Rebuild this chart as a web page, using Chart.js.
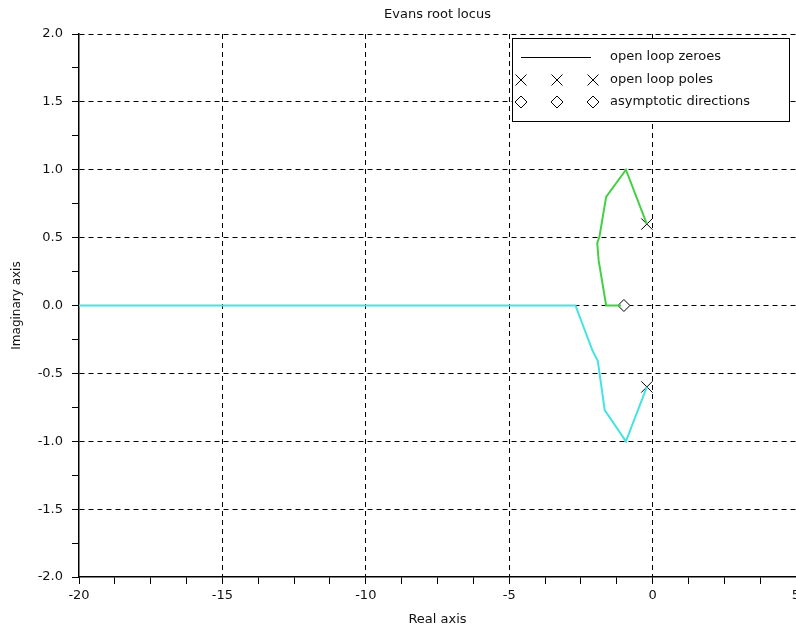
<!DOCTYPE html>
<html>
<head>
<meta charset="utf-8">
<script src="https://cdn.jsdelivr.net/npm/chart.js@4/dist/chart.umd.min.js"></script>
<style>
  html, body { margin: 0; padding: 0; background: #fff; overflow: hidden; }
  canvas { display: block; }
</style>
</head>
<body>
<canvas id="locusChart" width="805" height="628"></canvas>
<script>
// root locus branches
const cyanX = [-20, -2.69, -2.10, -1.91, -1.67, -0.93, -0.2];
const cyanY = [0, 0, -0.33, -0.41, -0.77, -1.0, -0.6];
const greenX = [-0.2, -0.93, -1.62, -1.85, -1.93, -1.88, -1.62, -1.1];
const greenY = [0.6, 1.0, 0.80, 0.51, 0.46, 0.33, 0, 0];
// open loop poles and asymptote centre
const poleX = [-0.2, -0.2];
const poleY = [0.6, -0.6];
const asymX = [-1.0];
const asymY = [0];

const legendRows = ['open loop zeroes', 'open loop poles', 'asymptotic directions'];
const chartTitle = 'Evans root locus';
const xLabel = 'Real axis';
const yLabel = 'Imaginary axis';

const FONT = 'DejaVu Sans';

function toPoints(xs, ys) {
    return xs.map((x, i) => ({ x: x, y: ys[i] }));
}

function isMultiple(v, step) {
    const r = v / step;
    return Math.abs(r - Math.round(r)) < 1e-9;
}

// title + legend box, drawn on top like the scilab figure
const decorPlugin = {
    id: 'decor',
    afterDraw(chart) {
        const ctx = chart.ctx;
        const area = chart.chartArea;
        ctx.save();
        ctx.fillStyle = '#111';
        ctx.font = '13px "' + FONT + '"';
        ctx.textAlign = 'center';
        ctx.textBaseline = 'middle';
        ctx.fillText(chartTitle, (area.left + area.right) / 2, 15);

        // legend box
        const bx = 512, by = 38, bw = 277, bh = 83;
        ctx.fillStyle = '#fff';
        ctx.fillRect(bx, by, bw, bh);
        ctx.strokeStyle = '#000';
        ctx.lineWidth = 1;
        ctx.strokeRect(bx + 0.5, by + 0.5, bw, bh);

        const rowY = [57, 80, 102];
        const markX = [521, 557, 593];

        ctx.beginPath();
        ctx.moveTo(521, rowY[0] + 0.5);
        ctx.lineTo(591, rowY[0] + 0.5);
        ctx.stroke();

        markX.forEach((mx) => {
            const s = 5.5;
            ctx.beginPath();
            ctx.moveTo(mx - s, rowY[1] - s);
            ctx.lineTo(mx + s, rowY[1] + s);
            ctx.moveTo(mx + s, rowY[1] - s);
            ctx.lineTo(mx - s, rowY[1] + s);
            ctx.stroke();

            const d = 6;
            ctx.beginPath();
            ctx.moveTo(mx, rowY[2] - d);
            ctx.lineTo(mx + d, rowY[2]);
            ctx.lineTo(mx, rowY[2] + d);
            ctx.lineTo(mx - d, rowY[2]);
            ctx.closePath();
            ctx.stroke();
        });

        ctx.fillStyle = '#111';
        ctx.textAlign = 'left';
        legendRows.forEach((txt, i) => {
            ctx.fillText(txt, 610, rowY[i]);
        });
        ctx.restore();
    }
};

const ctx = document.getElementById('locusChart').getContext('2d');

const locusChart = new Chart(ctx, {
    type: 'scatter',
    data: {
        datasets: [
            {
                data: toPoints(cyanX, cyanY),
                showLine: true,
                borderColor: '#45e3e3',
                borderWidth: 2,
                pointRadius: 0
            },
            {
                data: toPoints(greenX, greenY),
                showLine: true,
                borderColor: '#44d044',
                borderWidth: 2,
                pointRadius: 0
            },
            {
                data: toPoints(poleX, poleY),
                showLine: false,
                pointStyle: 'crossRot',
                pointRadius: 8,
                borderColor: '#000',
                borderWidth: 1
            },
            {
                data: toPoints(asymX, asymY),
                showLine: false,
                pointStyle: 'rectRot',
                pointRadius: 6,
                backgroundColor: '#fff',
                borderColor: '#000',
                borderWidth: 1
            }
        ]
    },
    options: {
        responsive: false,
        animation: false,
        devicePixelRatio: 1,
        layout: { padding: { top: 34, right: 6, left: 0, bottom: 0 } },
        plugins: {
            legend: { display: false },
            tooltip: { enabled: false }
        },
        scales: {
            x: {
                type: 'linear',
                min: -20,
                max: 5,
                afterFit: (scale) => { scale.height = 51; },
                ticks: {
                    stepSize: 1.25,
                    autoSkip: false,
                    maxRotation: 0,
                    padding: 4,
                    color: '#111',
                    font: { family: FONT, size: 13 },
                    callback: (v) => isMultiple(v, 5) ? String(v) : ''
                },
                grid: {
                    color: (c) => (isMultiple(c.tick.value, 5) && c.tick.value > -20) ? '#000' : 'rgba(0,0,0,0)',
                    tickColor: '#000',
                    tickLength: 7,
                    lineWidth: 1
                },
                border: { display: true, color: '#000', width: 1.5, dash: [5, 4] },
                title: {
                    display: true,
                    text: xLabel,
                    color: '#111',
                    font: { family: FONT, size: 13 },
                    padding: { top: 0, bottom: 1 }
                }
            },
            y: {
                type: 'linear',
                min: -2,
                max: 2,
                afterFit: (scale) => { scale.width = 79; },
                ticks: {
                    stepSize: 0.25,
                    autoSkip: false,
                    padding: 9,
                    color: '#111',
                    font: { family: FONT, size: 13 },
                    callback: (v) => isMultiple(v, 0.5) ? v.toFixed(1) : ''
                },
                grid: {
                    color: (c) => (isMultiple(c.tick.value, 0.5) && c.tick.value > -2) ? '#000' : 'rgba(0,0,0,0)',
                    tickColor: '#000',
                    tickLength: 7,
                    lineWidth: 1
                },
                border: { display: true, color: '#000', width: 1.5, dash: [5, 4] },
                title: {
                    display: true,
                    text: yLabel,
                    color: '#111',
                    font: { family: FONT, size: 12 },
                    padding: { top: 10, bottom: 0 }
                }
            }
        }
    },
    plugins: [decorPlugin]
});
</script>
</body>
</html>
